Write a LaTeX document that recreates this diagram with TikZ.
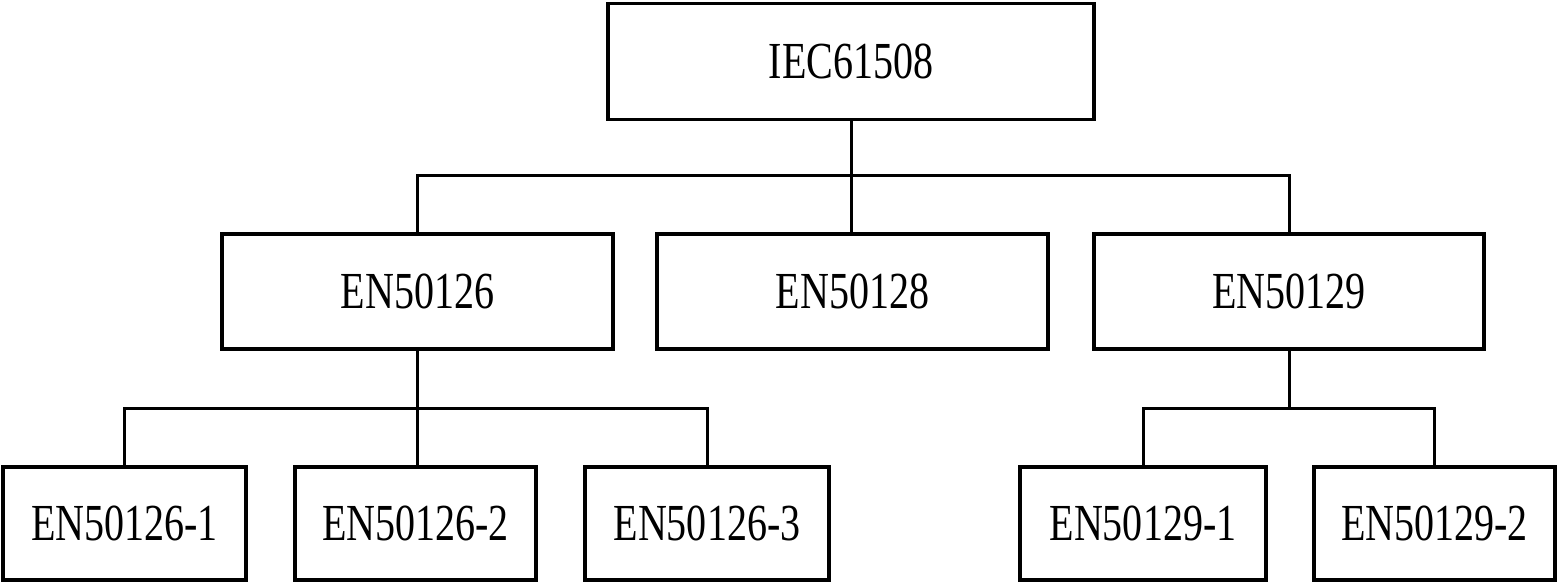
\documentclass[tikz,border=0pt]{standalone}
\usepackage{fontspec}
\setmainfont{Liberation Serif}
\usetikzlibrary{calc}
\begin{document}
\begin{tikzpicture}[x=1pt,y=-1pt,
  box/.style={draw=black,line width=3.2pt,inner sep=0pt,
    minimum height=116pt,font=\fontsize{52}{52}\selectfont},
  wire/.style={line width=3pt}]
\useasboundingbox (0,0) rectangle (1557,583);
\newcommand{\lbl}[1]{\scalebox{0.77}[1]{#1}}
% top level
\node[box,minimum width=486pt] (iec) at (851,61.5) {\lbl{IEC61508}};
% second level
\node[box,minimum width=391pt,minimum height=115pt] (en26) at (417.5,291.5) {\lbl{EN50126}};
\node[box,minimum width=391pt,minimum height=115pt] (en28) at (852.5,291.5) {\lbl{EN50128}};
\node[box,minimum width=390pt,minimum height=115pt] (en29) at (1289,291.5) {\lbl{EN50129}};
% third level
\node[box,minimum width=243pt,minimum height=113pt] (a1) at (124.5,523.5) {\lbl{EN50126-1}};
\node[box,minimum width=241pt,minimum height=113pt] (a2) at (415.5,523.5) {\lbl{EN50126-2}};
\node[box,minimum width=244pt,minimum height=113pt] (a3) at (707,523.5) {\lbl{EN50126-3}};
\node[box,minimum width=246pt,minimum height=113pt] (b1) at (1143,523.5) {\lbl{EN50129-1}};
\node[box,minimum width=241pt,minimum height=113pt] (b2) at (1434.5,523.5) {\lbl{EN50129-2}};
% bus levels
\coordinate (bus1) at (0,175);
\coordinate (bus2) at (0,408);
% connectors
\draw[wire] (iec.south) -- (iec.south |- en28.north);
\draw[wire] (en26.north) |- (iec.south |- bus1) -| (en29.north);
\draw[wire] (a1.north) |- (en26.south |- bus2) -| (a3.north);
\draw[wire] (en26.south) -- (en26.south |- a2.north);
\draw[wire] (b1.north) |- (en29.south |- bus2) -| (b2.north);
\draw[wire] (en29.south) -- (en29.south |- bus2);
\end{tikzpicture}
\end{document}
